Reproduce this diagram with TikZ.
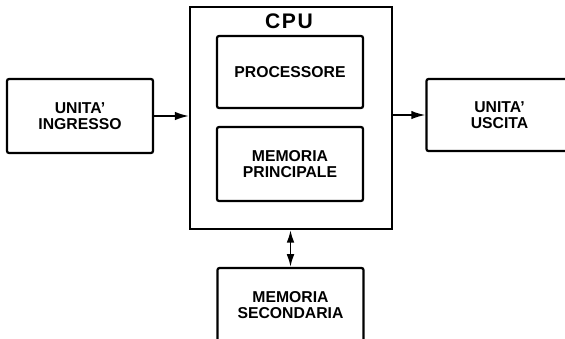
\documentclass[tikz,border=0pt]{standalone}
\usepackage{fontspec}
\setmainfont{Liberation Sans}
\usetikzlibrary{arrows.meta}

\begin{document}
\begin{tikzpicture}[x=0.025cm,y=-0.025cm,
  box/.style={draw,line width=1.6pt,rounded corners=1.5pt,minimum width=3.65cm,minimum height=1.85cm,align=center,font=\fontsize{11.2}{11.5}\selectfont\bfseries},
  link/.style={line width=1.2pt,-{Latex[length=10pt,width=6pt]}}]
  \useasboundingbox (0,0) rectangle (565,338);
  \node[draw,line width=1.4pt,minimum width=5.05cm,minimum height=5.55cm] (cpu) at (291,118){};
  \node[font=\fontsize{15}{15}\selectfont\bfseries] (cpulab) at (289,21){C\kern1.2pt P\kern1.2pt U};
  \node[box,minimum height=1.8cm] (proc) at (290,72){PROCESSORE};
  \node[box] (memp) at (290,164){MEMORIA\\PRINCIPALE};
  \node[box] (in) at (80,116){UNITA'\\INGRESSO};
  \node[box,minimum height=1.8cm] (out) at (499.5,115){UNITA'\\USCITA};
  \node[box] (sec) at (290.5,305){MEMORIA\\SECONDARIA};
  \draw[link] (in.east) -- (in.east -| cpu.west); % input to cpu
  \draw[link] (out.west -| cpu.east) -- (out.west); % cpu to output
  \draw[line width=1.2pt,{Latex[length=9pt,width=5.5pt]}-{Latex[length=9pt,width=5.5pt]}] (sec.north |- cpu.south) -- (sec.north);
\end{tikzpicture}
\end{document}
